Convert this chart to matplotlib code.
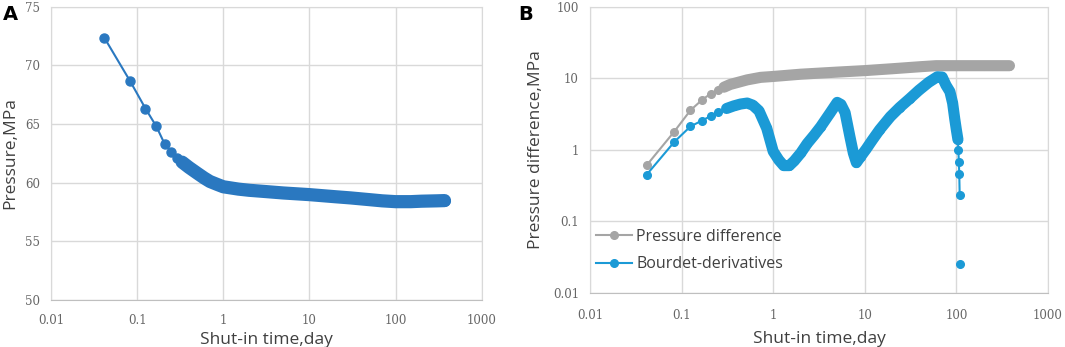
import numpy as np
import matplotlib
matplotlib.use("Agg")
import matplotlib.pyplot as plt
from matplotlib.ticker import FixedLocator, FixedFormatter, NullLocator

# panel A: shut-in pressure
time_a = [0.0417, 0.0833, 0.125, 0.167, 0.208, 0.25, 0.292, 0.333, 0.4, 0.5, 0.6, 0.7,
          0.85, 1.0, 1.5, 2, 3, 5, 10, 20, 30, 50, 70, 100, 150, 200, 300, 370]
pressure = [72.35, 68.63, 66.32, 64.8, 63.32, 62.65, 62.14, 61.75, 61.3, 60.8, 60.4, 60.1,
            59.85, 59.65, 59.45, 59.35, 59.25, 59.12, 58.98, 58.8, 58.7, 58.55, 58.45, 58.38, 58.38,
            58.42, 58.45, 58.47]

# panel B: pressure difference and Bourdet derivative
time_dp = [0.0417, 0.0833, 0.125, 0.167, 0.208, 0.25, 0.29, 0.34, 0.52, 0.73, 1.0, 2.0, 5.0,
           10, 20, 40, 60, 100, 200, 380]
press_diff = [0.61, 1.8, 3.57, 4.98, 6.1, 6.9, 7.5, 8.2, 9.5, 10.3, 10.6, 11.4, 12.2,
              12.8, 13.6, 14.5, 15.0, 15.0, 15.0, 15.0]

time_der = [0.0417, 0.0833, 0.125, 0.167, 0.208, 0.25, 0.31, 0.37, 0.44, 0.52, 0.6, 0.7,
            0.85, 1.0, 1.15, 1.3, 1.5, 1.7, 2.0, 2.35, 2.8, 3.3, 4.2, 5.0, 5.5, 6.1, 6.9,
            7.5, 8.1, 9.0, 10.4, 12, 14.5, 19, 24, 31, 39, 50, 62, 70, 77, 85, 91, 96,
            100, 104, 105, 106.5, 107.5, 108.7, 109, 109]
derivative = [0.45, 1.29, 2.12, 2.56, 2.96, 3.38, 3.78, 4.1, 4.36, 4.5, 4.2, 3.5,
              2.0, 0.95, 0.72, 0.6, 0.6, 0.7, 0.9, 1.22, 1.6, 2.1, 3.3, 4.6, 4.3, 3.3, 1.5,
              0.9, 0.66, 0.8, 1.03, 1.35, 1.9, 2.9, 3.9, 5.2, 6.8, 8.8, 10.5, 10.4, 8.0, 6.5,
              4.5, 2.7, 1.9, 1.39, 1.0, 0.68, 0.46, 0.23, np.nan, 0.025]

x_ticks = [0.01, 0.1, 1, 10, 100, 1000]
x_labels = ["0.01", "0.1", "1", "10", "100", "1000"]

blue_a = "#2a78c0"
blue_b = "#1b9ad6"
grey_b = "#a5a5a5"
grid_c = "#d9d9d9"
tick_c = "#666666"
label_c = "#404040"

plt.rcParams["font.family"] = ["Open Sans", "DejaVu Sans"]


def style_axes(ax, xpad):
    ax.set_xscale("log")
    ax.set_xlim(0.01, 1000)
    ax.xaxis.set_major_locator(FixedLocator(x_ticks))
    ax.xaxis.set_major_formatter(FixedFormatter(x_labels))
    ax.xaxis.set_minor_locator(NullLocator())
    ax.grid(True, color=grid_c, lw=1.0)
    ax.set_axisbelow(True)
    for s in ax.spines.values():
        s.set_color(grid_c)
    ax.spines["bottom"].set_color("#bfbfbf")
    ax.tick_params(length=0, labelcolor=tick_c, labelsize=8.5)
    ax.tick_params(axis="x", pad=xpad)
    ax.tick_params(axis="y", pad=8)
    for lab in ax.get_xticklabels() + ax.get_yticklabels():
        lab.set_family("DejaVu Serif")


fig = plt.figure(figsize=(10.65, 3.47), dpi=100)

# ---- A
ax1 = fig.add_axes([0.0479, 0.1357, 0.4044, 0.8447])
ax1.plot(time_a[7:], pressure[7:], color=blue_a, lw=9.5, solid_capstyle="round")
ax1.plot(time_a, pressure, "-o", color=blue_a, lw=1.5, ms=6.5)
ax1.set_ylim(50, 75)
ax1.set_yticks([50, 55, 60, 65, 70, 75])
style_axes(ax1, 10.5)
ax1.set_xlabel("Shut-in time,day", fontsize=12.5, color=label_c, labelpad=3)
ax1.set_ylabel("Pressure,MPa", fontsize=12.5, color=label_c, labelpad=5)
fig.text(0.003, 0.985, "A", fontsize=14, fontweight="bold", va="top", family="DejaVu Sans")

# ---- B
ax2 = fig.add_axes([0.554, 0.1565, 0.430, 0.8239])
ax2.set_yscale("log")
ax2.plot(time_dp[6:], press_diff[6:], color=grey_b, lw=8, solid_capstyle="round")
ax2.plot(time_dp, press_diff, "-o", color=grey_b, lw=1.5, ms=5.5, label="Pressure difference")
ax2.plot(time_der[6:46], derivative[6:46], color=blue_b, lw=8, solid_capstyle="round")
ax2.plot(time_der, derivative, "-o", color=blue_b, lw=1.5, ms=5.5, label="Bourdet-derivatives")
ax2.set_ylim(0.01, 100)
ax2.yaxis.set_major_locator(FixedLocator([0.01, 0.1, 1, 10, 100]))
ax2.yaxis.set_major_formatter(FixedFormatter(["0.01", "0.1", "1", "10", "100"]))
ax2.yaxis.set_minor_locator(NullLocator())
style_axes(ax2, 12)
ax2.set_xlabel("Shut-in time,day", fontsize=12.5, color=label_c, labelpad=6)
ax2.set_ylabel("Pressure difference,MPa", fontsize=12.5, color=label_c, labelpad=6)
leg = ax2.legend(loc="upper left", bbox_to_anchor=(0.0, 0.245), frameon=False,
                 fontsize=11.5, handlelength=2.2, handletextpad=0.3, labelspacing=0.7,
                 borderaxespad=0.2, borderpad=0.2)
for txt in leg.get_texts():
    txt.set_color(label_c)
fig.text(0.487, 0.985, "B", fontsize=14, fontweight="bold", va="top", family="DejaVu Sans")

fig.savefig("out.png", dpi=100)
